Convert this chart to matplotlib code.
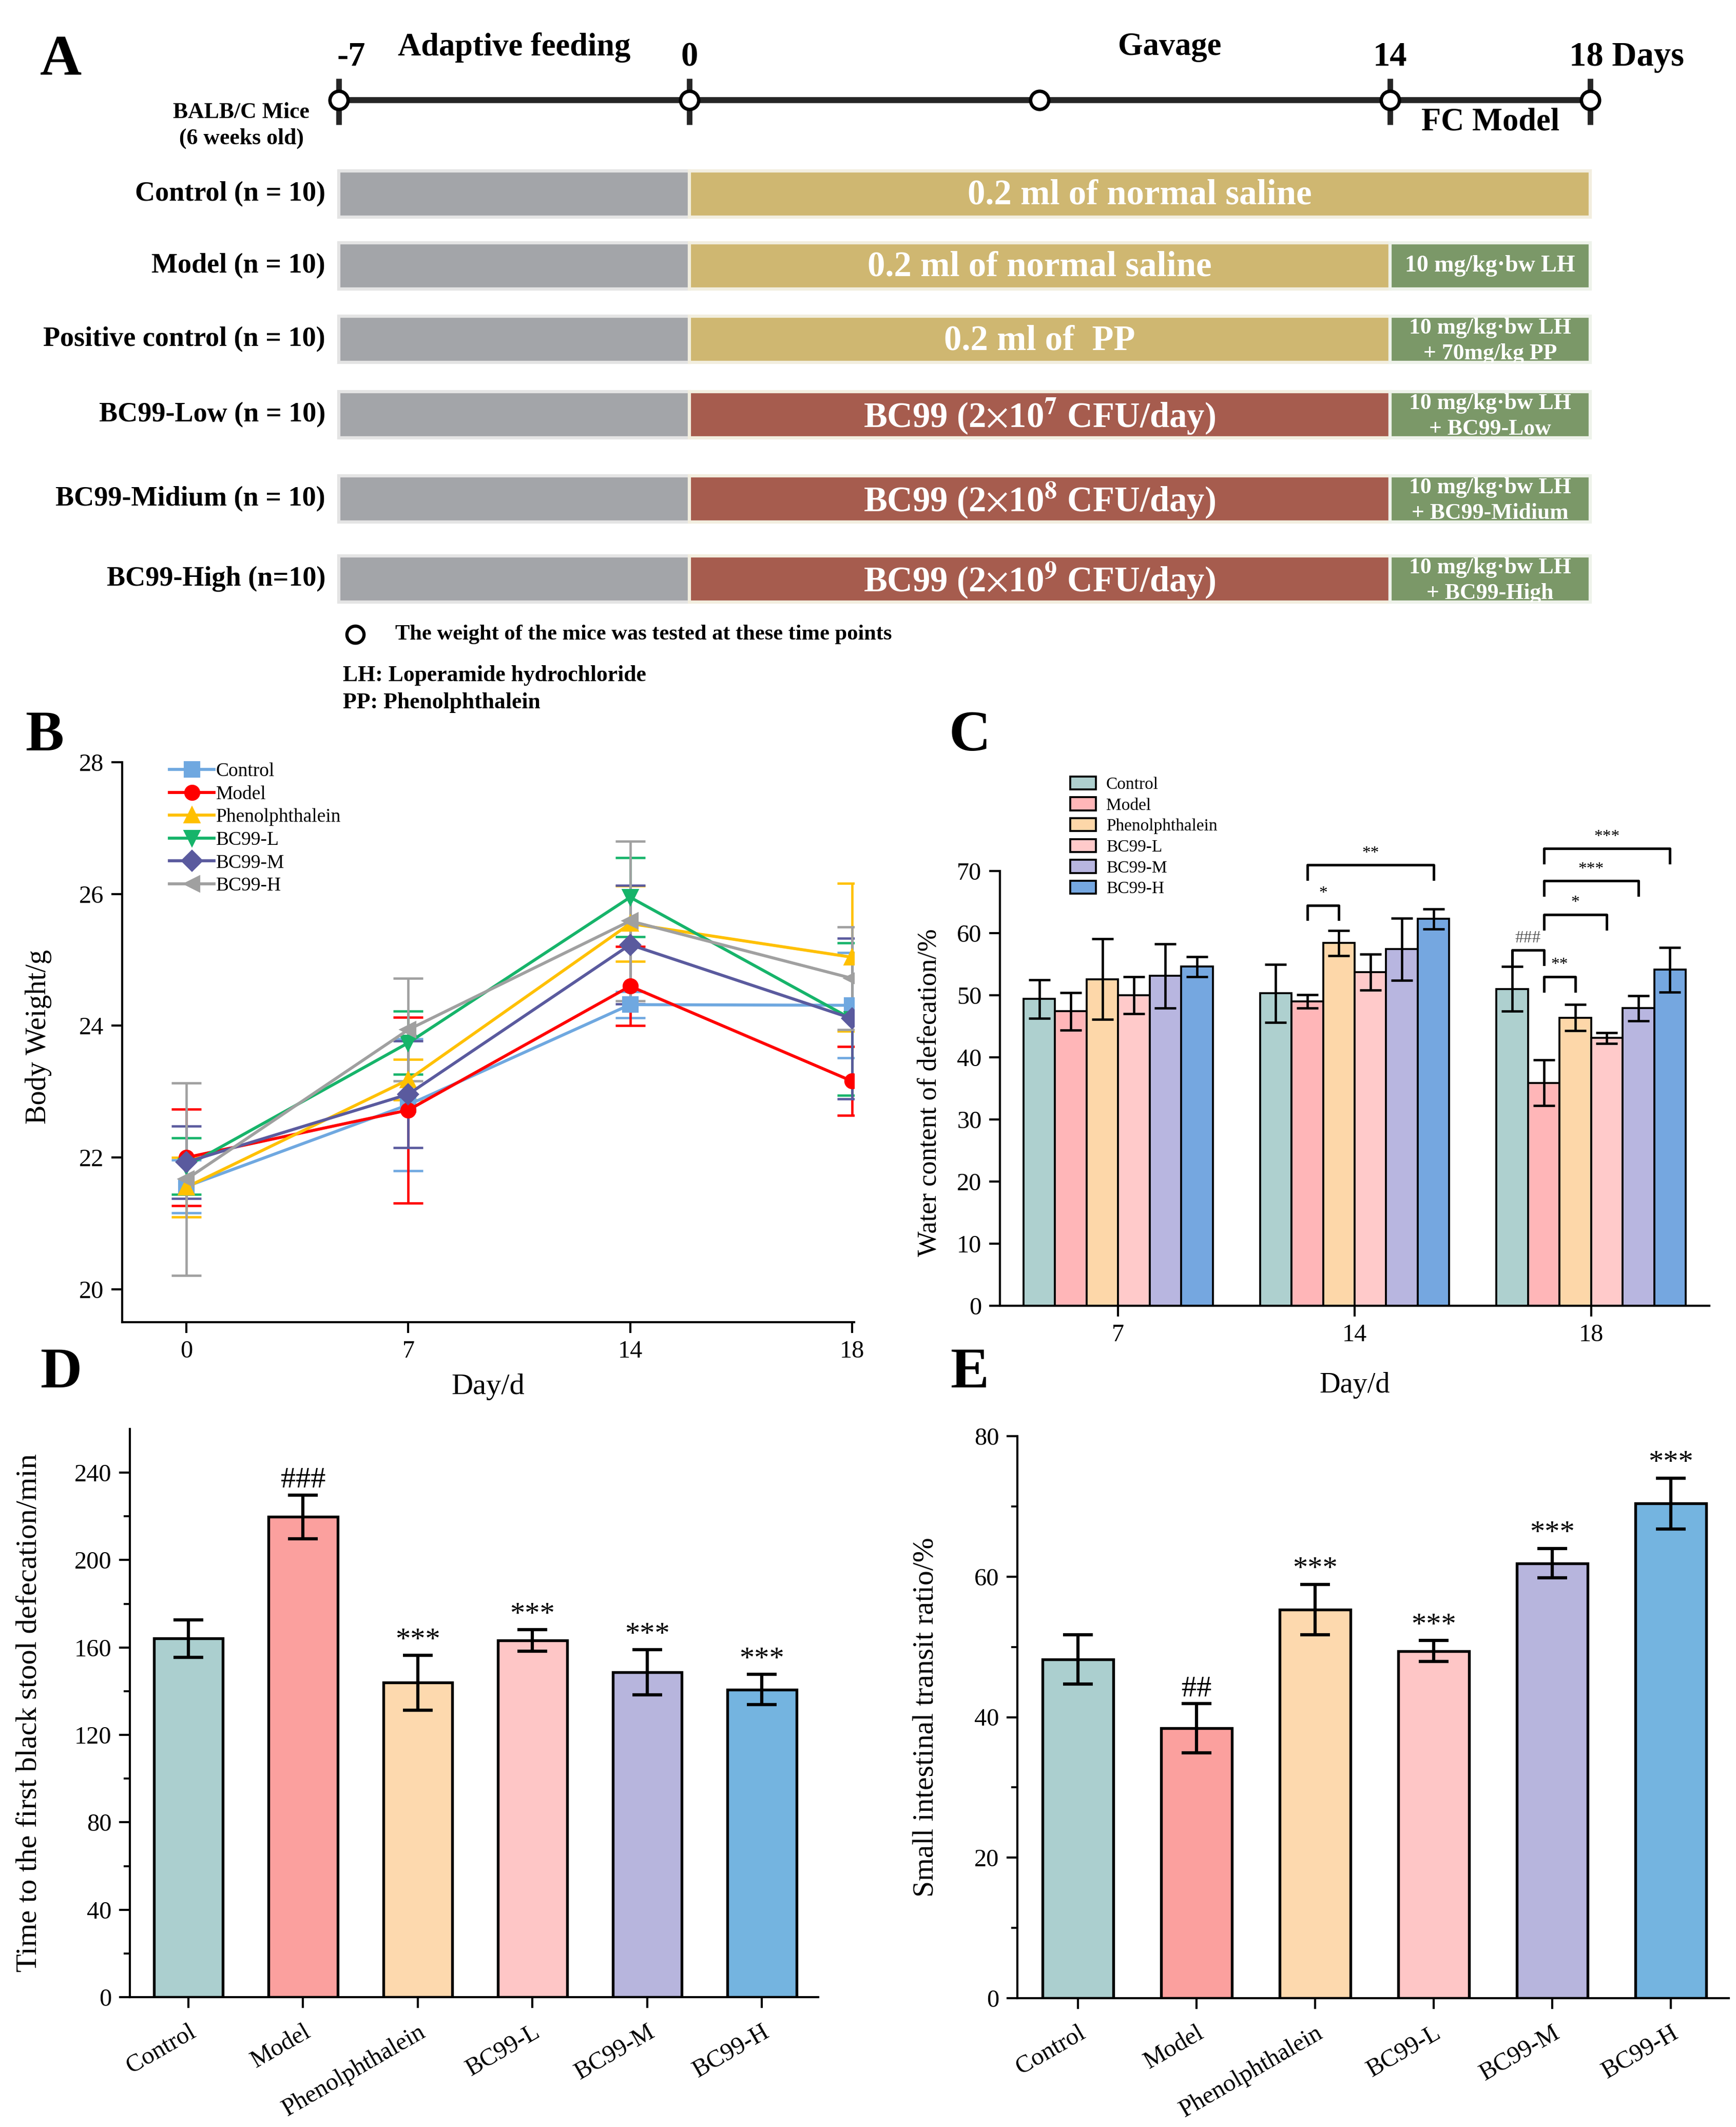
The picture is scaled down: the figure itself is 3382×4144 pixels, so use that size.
import matplotlib
matplotlib.use("Agg")
import matplotlib.pyplot as plt
import numpy as np
from matplotlib.patches import Rectangle
from matplotlib.lines import Line2D

plt.rcParams['font.family'] = ['Liberation Serif', 'DejaVu Serif']
plt.rcParams['mathtext.fontset'] = 'stix'

W, H = 3382, 4144
DPI = 300

# ---------------- Panel A data ----------------
a_groups = ['Control (n = 10)', 'Model (n = 10)', 'Positive control (n = 10)',
            'BC99-Low (n = 10)', 'BC99-Midium (n = 10)', 'BC99-High (n=10)']
a_gavage_text = ['0.2 ml of normal saline', '0.2 ml of normal saline', '0.2 ml of  PP',
                 r'BC99 (2$\times$10$^{\mathbf{7}}$ CFU/day)',
                 r'BC99 (2$\times$10$^{\mathbf{8}}$ CFU/day)',
                 r'BC99 (2$\times$10$^{\mathbf{9}}$ CFU/day)']
a_gavage_kind = ['saline', 'saline', 'saline', 'bc99', 'bc99', 'bc99']
a_gavage_end = [18, 14, 14, 14, 14, 14]
a_model_text = [None, '10 mg/kg·bw LH', '10 mg/kg·bw LH\n+ 70mg/kg PP',
                '10 mg/kg·bw LH\n+ BC99-Low', '10 mg/kg·bw LH\n+ BC99-Midium',
                '10 mg/kg·bw LH\n+ BC99-High']
a_day_start, a_day_gavage, a_day_model, a_day_end = -7, 0, 14, 18
a_weigh_days = [-7, 0, 7, 14, 18]
a_tick_days = [-7, 0, 14, 18]
a_tick_labels = ['-7', '0', '14', '18 Days']

# ---------------- Panel B data ----------------
b_days = ['0', '7', '14', '18']
b_series = ['Control', 'Model', 'Phenolphthalein', 'BC99-L', 'BC99-M', 'BC99-H']
b_control = [21.56, 22.80, 24.32, 24.31]
b_control_err = [0.40, 1.00, 0.20, 0.80]
b_model = [22.00, 22.72, 24.60, 23.16]
b_model_err = [0.73, 1.41, 0.60, 0.52]
b_phenol = [21.55, 23.18, 25.55, 25.04]
b_phenol_err = [0.45, 0.31, 0.57, 1.12]
b_bc99l = [21.87, 23.74, 25.95, 24.10]
b_bc99l_err = [0.43, 0.48, 0.60, 1.16]
b_bc99m = [21.93, 22.96, 25.23, 24.11]
b_bc99m_err = [0.55, 0.81, 0.90, 1.22]
b_bc99h = [21.67, 23.94, 25.59, 24.72]
b_bc99h_err = [1.46, 0.78, 1.21, 0.78]

# ---------------- Panel C data ----------------
c_days = ['7', '14', '18']
c_control = [49.4, 50.3, 51.0]
c_control_err = [3.1, 4.7, 3.6]
c_model = [47.4, 49.0, 35.9]
c_model_err = [3.0, 1.1, 3.7]
c_phenol = [52.6, 58.4, 46.4]
c_phenol_err = [6.5, 2.0, 2.1]
c_bc99l = [50.0, 53.7, 43.1]
c_bc99l_err = [3.0, 2.9, 0.9]
c_bc99m = [53.1, 57.4, 47.9]
c_bc99m_err = [5.2, 5.0, 2.0]
c_bc99h = [54.6, 62.3, 54.1]
c_bc99h_err = [1.6, 1.6, 3.6]
# (group index, bar from, bar to, bracket height, label)
c_brackets = [(1, 1, 5, 71.0, '**'), (1, 1, 2, 64.5, '*'),
              (2, 0, 1, 57.3, '###'), (2, 1, 2, 53.0, '**'),
              (2, 1, 3, 63.0, '*'), (2, 1, 4, 68.4, '***'), (2, 1, 5, 73.6, '***')]

# ---------------- Panel D / E data ----------------
de_groups = ['Control', 'Model', 'Phenolphthalein', 'BC99-L', 'BC99-M', 'BC99-H']
d_values = [164.1, 219.8, 143.9, 163.2, 148.6, 140.8]
d_err = [8.6, 10.0, 12.6, 4.9, 10.3, 6.9]
d_sig = ['', '###', '***', '***', '***', '***']
e_values = [48.2, 38.4, 55.3, 49.4, 61.9, 70.4]
e_err = [3.5, 3.5, 3.6, 1.5, 2.1, 3.6]
e_sig = ['', '##', '***', '***', '***', '***']

# ---------------- styles ----------------
col_gray = '#A3A5A9'
col_saline = '#CFB771'
col_bc99 = '#A65C4E'
col_fc = '#7B9868'
b_colors = ['#6FA8E0', '#FF0000', '#FFC000', '#16B46A', '#5A5A9E', '#A0A0A0']
b_markers = ['s', 'o', '^', 'v', 'D', '<']
c_colors = ['#AED0CF', '#FFB6B8', '#FDD7A9', '#FFCACA', '#B8B6E0', '#75A7E0']
de_colors = ['#ABCFCF', '#FBA09E', '#FDD9AE', '#FEC6C6', '#B7B5DD', '#74B4E0']
TICK_FS = 11.6

fig = plt.figure(figsize=(W / DPI, H / DPI), dpi=DPI)

# ================= Panel A =================
a_top_px = 1400
axA = fig.add_axes([0, 1 - a_top_px / H, 1, a_top_px / H])
axA.set_xlim(-13.77, 20.91)
axA.set_ylim(a_top_px, 0)
axA.axis('off')

row_y = [378, 518, 661, 808, 972, 1128]
row_h = 90
tl_y = 195

axA.plot([a_day_start, a_day_end], [tl_y, tl_y], color='#262626', lw=2.8, solid_capstyle='butt', zorder=2)
for d in a_tick_days:
    axA.plot([d, d], [153, 243], color='#262626', lw=2.6, solid_capstyle='butt', zorder=2)
axA.plot(a_weigh_days, [tl_y] * len(a_weigh_days), 'o', ms=8.5, mfc='white', mec='black', mew=1.6, zorder=3)

lbl_offsets = [0.25, 0, 0, 0]
for d, t, off in zip(a_tick_days, a_tick_labels, lbl_offsets):
    if t.endswith('Days'):
        axA.text(d - 0.42, 112, t, ha='left', va='center', fontsize=16, fontweight='bold')
    else:
        axA.text(d + off, 112, t, ha='center', va='center', fontsize=16, fontweight='bold')
axA.text((a_day_start + a_day_gavage) / 2, 92, 'Adaptive feeding', ha='center', va='center',
         fontsize=15, fontweight='bold')
axA.text(9.6, 92, 'Gavage', ha='center', va='center', fontsize=15, fontweight='bold')
axA.text((a_day_model + a_day_end) / 2, 238, 'FC Model', ha='center', va='center',
         fontsize=15, fontweight='bold')
axA.text(-8.95, 219, 'BALB/C Mice', ha='center', va='center', fontsize=10.5, fontweight='bold')
axA.text(-8.95, 270, '(6 weeks old)', ha='center', va='center', fontsize=10.5, fontweight='bold')
axA.text(-12.55, 119, 'A', ha='center', va='center', fontsize=27, fontweight='bold')

for i, g in enumerate(a_groups):
    yc = row_y[i]
    y0 = yc - row_h / 2
    axA.text(-7.27, yc, g, ha='right', va='center', fontsize=13, fontweight='bold')
    axA.add_patch(Rectangle((a_day_start, y0), a_day_gavage - a_day_start, row_h,
                            facecolor=col_gray, edgecolor='#E4E4E4', lw=1.5))
    gcol = col_saline if a_gavage_kind[i] == 'saline' else col_bc99
    gend = a_gavage_end[i]
    axA.add_patch(Rectangle((a_day_gavage, y0), gend - a_day_gavage, row_h,
                            facecolor=gcol, edgecolor='#F2EEDF', lw=1.5))
    axA.text((a_day_gavage + gend) / 2, yc + 3, a_gavage_text[i], ha='center', va='center',
             fontsize=16.5, fontweight='bold', color='white')
    if a_model_text[i] is not None:
        rect = Rectangle((a_day_model, y0), a_day_end - a_day_model, row_h,
                         facecolor=col_fc, edgecolor='#EEF2EA', lw=1.5)
        axA.add_patch(rect)
        lines = a_model_text[i].split('\n')
        if len(lines) == 1:
            axA.text((a_day_model + a_day_end) / 2, yc, lines[0], ha='center', va='center',
                     fontsize=11, fontweight='bold', color='white')
        else:
            axA.text((a_day_model + a_day_end) / 2, yc - 22, lines[0], ha='center', va='center',
                     fontsize=10.5, fontweight='bold', color='white')
            t2 = axA.text((a_day_model + a_day_end) / 2, yc + 28, lines[1], ha='center', va='center',
                          fontsize=10.5, fontweight='bold', color='white')
            t2.set_clip_path(rect)
            t2.set_clip_on(True)

axA.plot([-6.67], [1236], 'o', ms=8, mfc='white', mec='black', mew=1.5)
axA.text(-5.87, 1236, 'The weight of the mice was tested at these time points', ha='left', va='center',
         fontsize=10.2, fontweight='bold')
axA.text(-6.92, 1316, 'LH: Loperamide hydrochloride', ha='left', va='center', fontsize=10.5, fontweight='bold')
axA.text(-6.92, 1369, 'PP: Phenolphthalein', ha='left', va='center', fontsize=10.5, fontweight='bold')


def style_axes(ax):
    for s in ['top', 'right']:
        ax.spines[s].set_visible(False)
    for s in ['left', 'bottom']:
        ax.spines[s].set_linewidth(1.0)
    ax.tick_params(direction='out', length=5, width=1.0, labelsize=TICK_FS)
    ax.tick_params(which='minor', direction='out', length=2.8, width=0.9)


def fig_rect(l, r, b, t):
    return [l / W, 1 - b / H, (r - l) / W, (b - t) / H]


# ================= Panel B =================
axB = fig.add_axes(fig_rect(238, 1664, 2576, 1485))
style_axes(axB)
xb = np.arange(len(b_days))
b_vals = [b_control, b_model, b_phenol, b_bc99l, b_bc99m, b_bc99h]
b_errs = [b_control_err, b_model_err, b_phenol_err, b_bc99l_err, b_bc99m_err, b_bc99h_err]
handles = []
for name, v, e, c, m in zip(b_series, b_vals, b_errs, b_colors, b_markers):
    axB.errorbar(xb, v, yerr=e, color=c, marker=m, ms=6.5, lw=1.4, elinewidth=1.1,
                 capsize=7, capthick=1.1)
    handles.append(Line2D([], [], color=c, marker=m, ms=6.5, lw=1.4, label=name))
axB.set_xlim(-0.29, 3.01)
axB.set_ylim(19.5, 28)
axB.set_yticks([20, 22, 24, 26, 28])
axB.set_xticks(xb)
axB.set_xticklabels(b_days)
axB.set_xlabel('Day/d', fontsize=14, labelpad=5)
axB.set_ylabel('Body Weight/g', fontsize=13.5)
axB.yaxis.set_label_coords(-0.096, 0.51)
axB.legend(handles=handles, loc='upper left', bbox_to_anchor=(0.0977, 0.6415), bbox_transform=fig.transFigure,
           frameon=False, fontsize=9, handlelength=2.3, handletextpad=0.1, labelspacing=0.27,
           borderaxespad=0, borderpad=0, numpoints=1)
fig.text(87 / W, 1 - 1435 / H, 'B', ha='center', va='center', fontsize=27, fontweight='bold')

# ================= Panel C =================
axC = fig.add_axes(fig_rect(1948, 3330, 2544, 1697))
style_axes(axC)
xc = np.arange(len(c_days))
bw = 0.8 / 6
c_vals = [c_control, c_model, c_phenol, c_bc99l, c_bc99m, c_bc99h]
c_errs = [c_control_err, c_model_err, c_phenol_err, c_bc99l_err, c_bc99m_err, c_bc99h_err]
for i, (name, v, e, c) in enumerate(zip(b_series, c_vals, c_errs, c_colors)):
    axC.bar(xc + (i - 2.5) * bw, v, width=bw, yerr=e, color=c, edgecolor='black', linewidth=0.9,
            label=name, error_kw=dict(elinewidth=1.1, capsize=5, capthick=1.1, ecolor='black'))
axC.set_xlim(-0.5, 2.5)
axC.set_ylim(0, 70)
axC.set_yticks(np.arange(0, 71, 10))
axC.set_xticks(xc)
axC.set_xticklabels(c_days)
axC.set_xlabel('Day/d', fontsize=13.5, labelpad=12)
axC.set_ylabel('Water content of defecation/%', fontsize=12.6)
axC.yaxis.set_label_coords(-0.082, 0.49)
drop = 2.3
for g, i0, i1, yb, lab in c_brackets:
    x0 = g + (i0 - 2.5) * bw
    x1 = g + (i1 - 2.5) * bw
    lc = '#555555' if lab.startswith('#') else 'black'
    axC.plot([x0, x0, x1, x1], [yb - drop, yb, yb, yb - drop], color='black', lw=1.2, clip_on=False)
    axC.text((x0 + x1) / 2, yb + 0.6, lab, ha='center', va='bottom', fontsize=8, color=lc, clip_on=False)
axC.legend(loc='upper left', bbox_to_anchor=(0.6165, 0.6350), bbox_transform=fig.transFigure,
           frameon=False, fontsize=8, handlelength=1.5, handleheight=0.8, handletextpad=0.6,
           labelspacing=0.28, borderaxespad=0, borderpad=0)
fig.text(1889 / W, 1 - 1435 / H, 'C', ha='center', va='center', fontsize=27, fontweight='bold')


# ================= Panel D / E =================
def bar_panel(ax, vals, errs, sig, ylim, major, minor, ylabel, lab_fs, lab_xy, sig_gap):
    style_axes(ax)
    x = np.arange(len(de_groups))
    ax.bar(x, vals, width=0.6, yerr=errs, color=de_colors, edgecolor='black', linewidth=1.3,
           error_kw=dict(elinewidth=1.5, capsize=7, capthick=1.5, ecolor='black'))
    for xi, v, e, s in zip(x, vals, errs, sig):
        if s:
            ax.text(xi, v + e + sig_gap, s, ha='center', va='bottom', fontsize=14)
    ax.set_xlim(-0.51, 5.49)
    ax.set_ylim(*ylim)
    ax.set_yticks(major)
    ax.set_yticks(minor, minor=True)
    ax.set_xticks(x)
    ax.set_xticklabels(de_groups, rotation=30, ha='right', rotation_mode='anchor')
    ax.tick_params(axis='x', pad=6)
    ax.set_ylabel(ylabel, fontsize=lab_fs)
    ax.yaxis.set_label_coords(*lab_xy)


axD = fig.add_axes(fig_rect(253, 1594, 3891, 2784))
bar_panel(axD, d_values, d_err, d_sig, (0, 260), np.arange(0, 241, 40), np.arange(20, 260, 40),
          'Time to the first black stool defecation/min', 14, (-0.127, 0.50), 0.5)
fig.text(119 / W, 1 - 2676 / H, 'D', ha='center', va='center', fontsize=27, fontweight='bold')

axE = fig.add_axes(fig_rect(1982, 3368, 3893, 2798))
bar_panel(axE, e_values, e_err, e_sig, (0, 80), np.arange(0, 81, 20), np.arange(10, 80, 20),
          'Small intestinal transit ratio/%', 13.8, (-0.110, 0.50), 0.2)
fig.text(1889 / W, 1 - 2676 / H, 'E', ha='center', va='center', fontsize=27, fontweight='bold')

fig.savefig('out.png', dpi=DPI)
